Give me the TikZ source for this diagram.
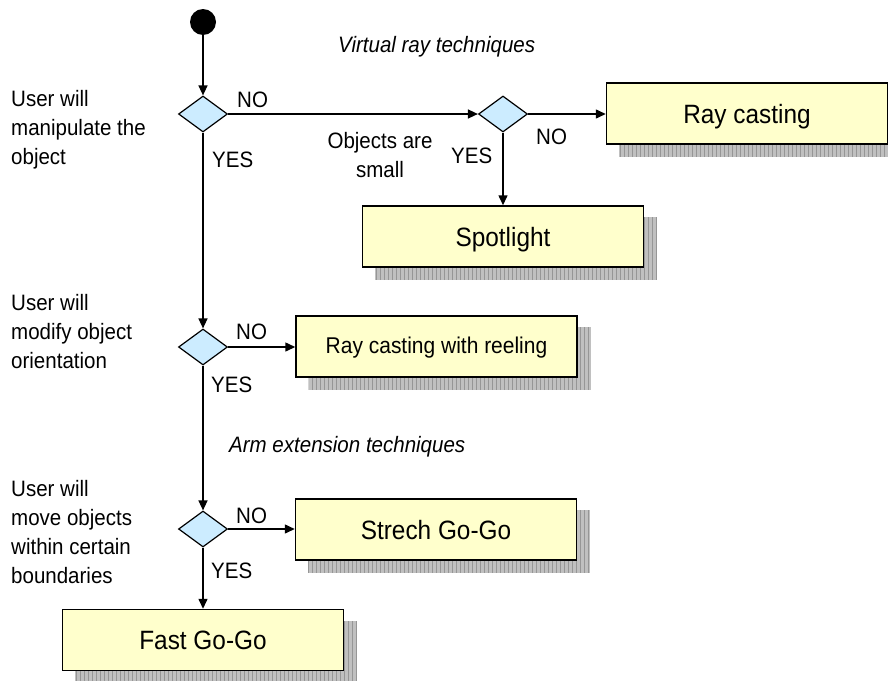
\documentclass[tikz,border=0pt]{standalone}
\usepackage{fontspec}
\setmainfont[FakeStretch=0.92]{Liberation Sans}
\usetikzlibrary{shapes.geometric,arrows.meta,backgrounds,calc}
\definecolor{boxfill}{RGB}{255,255,204}
\definecolor{decfill}{RGB}{204,236,255}
\definecolor{shadowbg}{RGB}{192,192,192}
\definecolor{shadowline}{RGB}{150,150,150}

% hatched drop shadow behind an action box
\newcommand\gridshadow[1]{%
  \begin{scope}
    \clip ($(#1.south west)+(13,12)$) rectangle ($(#1.north east)+(13,12)$);
    \fill[shadowbg] ($(#1.south west)+(13,12)$) rectangle ($(#1.north east)+(13,12)$);
    \draw[shadowline, line width=0.5pt, step=4] ($(#1.south west)+(13,12)$) grid ($(#1.north east)+(13,12)$);
  \end{scope}}

\begin{document}
\begin{tikzpicture}[x=1pt, y=-1pt,
  font=\fontsize{22.3}{29}\selectfont,
  >={Triangle[length=10pt,width=9pt]},
  decision/.style={diamond, draw, fill=decfill, minimum width=49pt, minimum height=36pt, inner sep=0pt, line width=1.2pt},
  action/.style={rectangle, draw, fill=boxfill, minimum width=281pt, minimum height=61pt, inner sep=0pt, line width=1.5pt,
    text height=20pt, text depth=0pt, font=\fontsize{26.5}{30}\selectfont},
  startdot/.style={circle, fill=black, minimum size=26pt, inner sep=0pt},
  flow/.style={->, line width=1.5pt},
  lbl/.style={anchor=base west, inner sep=0pt},
  note/.style={anchor=base west, inner sep=0pt, align=left},
  caption/.style={lbl, font=\fontsize{22.3}{29}\selectfont\itshape}]
  \useasboundingbox (0,0) rectangle (888,680);

  % start and decisions
  \node[startdot] (s) at (203,22) {};
  \node[decision] (d1) at (203,114) {};
  \node[decision] (d2) at (503,114) {};
  \node[decision] (d3) at (203,347) {};
  \node[decision] (d4) at (203,529) {};

  % resulting techniques
  \node[action] (rc) at (747,113.5) {Ray casting};
  \node[action] (spot) at (503,236.5) {Spotlight};
  \node[action, text height=14pt, font=\fontsize{22.8}{26}\selectfont] (reel) at (436.5,346.5) {Ray casting with reeling};
  \node[action] (strech) at (436,529.5) {Strech Go-Go};
  \node[action, text height=18pt] (fast) at (203,640) {Fast Go-Go};

  \begin{scope}[on background layer]
    \gridshadow{rc}
    \gridshadow{spot}
    \gridshadow{reel}
    \gridshadow{strech}
    \gridshadow{fast}
  \end{scope}

  % connectors
  \draw[flow] (s) -- (d1);
  \draw[flow] (d1) -- (d2);
  \draw[flow] (d2.east) -- (rc.west |- d2.east);
  \draw[flow] (d2) -- (spot);
  \draw[flow] (d1) -- (d3);
  \draw[flow] (d3.east) -- (reel.west |- d3.east);
  \draw[flow] (d3) -- (d4);
  \draw[flow] (d4.east) -- (strech.west |- d4.east);
  \draw[flow] (d4) -- (fast);

  % branch labels
  \node[lbl] (no1) at (237,107) {NO};
  \node[lbl] (yes1) at (212,167) {YES};
  \node[lbl] (no2) at (536,144) {NO};
  \node[lbl] (yes2) at (451,163) {YES};
  \node[lbl] (no3) at (236,339) {NO};
  \node[lbl] (yes3) at (211,392) {YES};
  \node[lbl] (no4) at (236,523) {NO};
  \node[lbl] (yes4) at (211,578) {YES};
  % multi-line nodes: the base anchor sits on the last line
  \node[anchor=base, inner sep=0pt, align=center] (small) at (380,177) {Objects are\\small};

  % questions
  \node[note] (q1) at (11,164) {User will\\manipulate the\\object};
  \node[note] (q2) at (11,368) {User will\\modify object\\orientation};
  \node[note] (q3) at (11,583) {User will\\move objects\\within certain\\boundaries};

  % group captions
  \node[caption] (vr) at (338,52) {Virtual ray techniques};
  \node[caption] (ae) at (229,452) {Arm extension techniques};
\end{tikzpicture}
\end{document}
